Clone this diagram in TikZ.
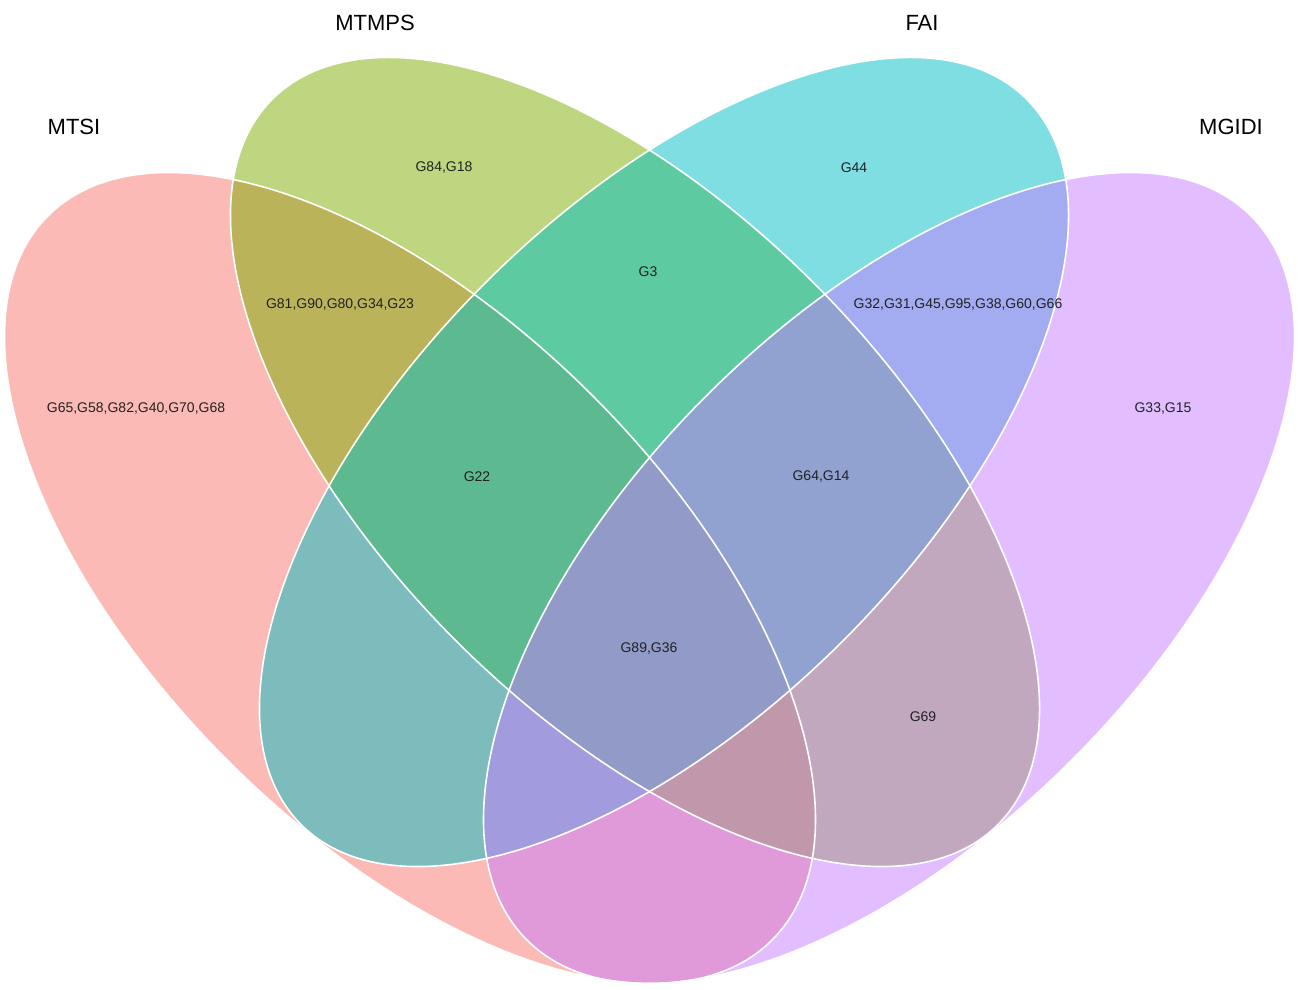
\documentclass[tikz,border=0pt]{standalone}
\usepackage{fontspec}
\setmainfont{Liberation Sans}
\definecolor{cA}{HTML}{F8766D}
\definecolor{cB}{HTML}{7CAE00}
\definecolor{cC}{HTML}{00BFC4}
\definecolor{cD}{HTML}{C77CFF}
\definecolor{txt}{HTML}{222222}
\begin{document}
\begin{tikzpicture}[x=1pt,y=1pt,
  setfill/.style={fill opacity=0.5},
  setline/.style={draw=white, line width=1.6pt},
  region/.style={font=\fontsize{14}{16}\selectfont, text=txt, inner sep=0pt},
  settitle/.style={font=\fontsize{22}{26}\selectfont, text=black, inner sep=0pt}]
\fill[white] (0,0) rectangle (1299,989);
\useasboundingbox (0,0) rectangle (1299,989);
% centres
\coordinate (ca) at (410,411);
\coordinate (cb) at (635,527);
\coordinate (cc) at (664,527);
\coordinate (cd) at (889,411);
% fills
\fill[cA, setfill, rotate around={-45:(ca)}] (ca) ellipse [x radius=512pt, y radius=258pt];
\fill[cB, setfill, rotate around={-45:(cb)}] (cb) ellipse [x radius=513pt, y radius=253pt];
\fill[cC, setfill, rotate around={45:(cc)}] (cc) ellipse [x radius=513pt, y radius=253pt];
\fill[cD, setfill, rotate around={45:(cd)}] (cd) ellipse [x radius=512pt, y radius=258pt];
% outlines
\draw[setline, rotate around={-45:(ca)}] (ca) ellipse [x radius=512pt, y radius=258pt];
\draw[setline, rotate around={-45:(cb)}] (cb) ellipse [x radius=513pt, y radius=253pt];
\draw[setline, rotate around={45:(cc)}] (cc) ellipse [x radius=513pt, y radius=253pt];
\draw[setline, rotate around={45:(cd)}] (cd) ellipse [x radius=512pt, y radius=258pt];
% set titles
\node[settitle] (tA) at (74,862) {MTSI};
\node[settitle] (tB) at (375,966) {MTMPS};
\node[settitle] (tC) at (922,966) {FAI};
\node[settitle] (tD) at (1231,862) {MGIDI};
% region labels
\node[region] (rB) at (444,821) {G84,G18};
\node[region] (rC) at (854,821) {G44};
\node[region] (rAB) at (340,684) {G81,G90,G80,G34,G23};
\node[region] (rBC) at (648,717) {G3};
\node[region] (rCD) at (958,684) {G32,G31,G45,G95,G38,G60,G66};
\node[region] (rA) at (136,580) {G65,G58,G82,G40,G70,G68};
\node[region] (rD) at (1163,580) {G33,G15};
\node[region] (rABC) at (477,512) {G22};
\node[region] (rBCD) at (821,512) {G64,G14};
\node[region] (rABCD) at (649,340) {G89,G36};
\node[region] (rBD) at (923,272) {G69};
\end{tikzpicture}
\end{document}
